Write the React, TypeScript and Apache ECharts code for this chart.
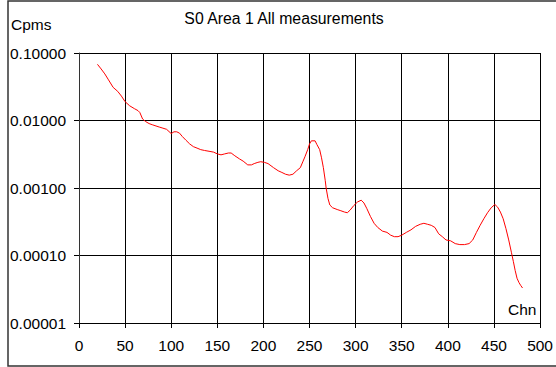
import React, { useEffect, useRef } from "react";
import * as echarts from "echarts";

const channels = [
  20, 24, 28, 32, 37, 42, 46, 50, 55, 60, 64, 66, 69, 72, 76, 80, 87, 91, 95, 100,
  103, 106, 109, 112, 116, 120, 124, 128, 132, 136, 141, 146, 150, 154, 158, 162, 165, 169, 174, 178,
  183, 187, 190, 194, 197, 201, 205, 211, 216, 220, 224, 228, 232, 236, 240, 243, 245, 248, 250, 252,
  256, 258, 261, 263, 265, 267, 268, 270, 272, 275, 280, 284, 288, 291, 294, 298, 302, 306, 309, 312,
  316, 320, 324, 329, 334, 338, 342, 346, 350, 355, 360, 365, 370, 374, 378, 382, 386, 390, 394, 398,
  403, 408, 413, 418, 423, 427, 431, 435, 439, 443, 447, 451, 454, 457, 460, 463, 466, 469, 471, 473,
  475, 477, 479, 481,
];

const cpms = [
  0.068, 0.058, 0.049, 0.04, 0.031, 0.027, 0.023, 0.019, 0.0165, 0.015, 0.014, 0.0131, 0.0105, 0.0097, 0.009, 0.0086, 0.008, 0.0077, 0.0074, 0.0064,
  0.0068, 0.0068, 0.0065, 0.0058, 0.0051, 0.0045, 0.0041, 0.0039, 0.0037, 0.0036, 0.0035, 0.0034, 0.0032, 0.0031, 0.0032, 0.0033, 0.0033, 0.003, 0.0027, 0.0025,
  0.0022, 0.0022, 0.0023, 0.0024, 0.00245, 0.0024, 0.0023, 0.002, 0.0018, 0.0017, 0.0016, 0.00155, 0.0016, 0.0018, 0.002, 0.0025, 0.0029, 0.0037, 0.0045, 0.005,
  0.005, 0.0044, 0.0037, 0.0028, 0.002, 0.0013, 0.001, 0.0007, 0.00056, 0.00051, 0.00048, 0.00046, 0.00044, 0.00043, 0.00047, 0.00055, 0.00062, 0.00066, 0.0006, 0.0005,
  0.00038, 0.0003, 0.00026, 0.00023, 0.00022, 0.0002, 0.00019, 0.00019, 0.0002, 0.00022, 0.00024, 0.00027, 0.00029, 0.0003, 0.00029, 0.00028, 0.00026, 0.00021, 0.00019, 0.00017,
  0.000165, 0.00015, 0.000145, 0.000145, 0.00015, 0.00017, 0.00022, 0.00028, 0.00035, 0.00043, 0.00051, 0.00057, 0.00052, 0.00044, 0.00035, 0.00025, 0.00017, 0.00011, 0.000082, 0.00006,
  0.000046, 0.00004, 0.000036, 0.000033,
];

const titleText = "S0 Area 1 All measurements";
const yAxisName = "Cpms";
const xAxisName = "Chn";

const FONT = "Arial, 'Liberation Sans', sans-serif";

export default function App() {
  const ref = useRef<HTMLDivElement>(null);
  useEffect(() => {
    if (!ref.current) return;
    const chart = echarts.init(ref.current, null, { renderer: "svg" });
    const data = channels.map((c, i) => [c, cpms[i]]);
    chart.setOption({
      animation: false,
      backgroundColor: "#ffffff",
      grid: { left: 79, top: 53, right: 13, bottom: 44, containLabel: false },
      xAxis: {
        type: "value",
        min: 0,
        max: 500,
        interval: 50,
        axisLine: { show: true, onZero: false, lineStyle: { color: "#000", width: 1 } },
        axisTick: { show: true, inside: false, length: 5, lineStyle: { color: "#000" } },
        axisLabel: { color: "#000", fontSize: 15.5, fontFamily: FONT, margin: 14 },
        splitLine: { show: true, lineStyle: { color: "#000", width: 1 } },
      },
      yAxis: {
        type: "log",
        logBase: 10,
        min: 0.00001,
        max: 0.1,
        axisLine: { show: true, lineStyle: { color: "#333", width: 1 } },
        axisTick: { show: true, inside: false, length: 5, lineStyle: { color: "#000" } },
        minorTick: { show: false },
        axisLabel: {
          color: "#000",
          fontSize: 15.5,
          fontFamily: FONT,
          margin: 13,
          formatter: (v: number) => v.toFixed(5),
        },
        splitLine: { show: true, lineStyle: { color: "#000", width: 1 } },
      },
      series: [
        {
          type: "line",
          data,
          showSymbol: false,
          symbol: "none",
          lineStyle: { color: "#ff0000", width: 1 },
          itemStyle: { color: "#ff0000" },
        },
      ],
      graphic: [
        {
          type: "rect",
          shape: { x: 8, y: 1, width: 560, height: 365 },
          style: { fill: "none", stroke: "#333", lineWidth: 1.5 },
          silent: true,
        },
        {
          type: "text",
          x: 284,
          y: 18,
          style: {
            text: titleText,
            fontSize: 15.8,
            fontFamily: FONT,
            fill: "#000",
            align: "center",
            verticalAlign: "middle",
          },
        },
        {
          type: "text",
          x: 11,
          y: 24,
          style: {
            text: yAxisName,
            fontSize: 15.5,
            fontFamily: FONT,
            fill: "#000",
            align: "left",
            verticalAlign: "middle",
          },
        },
        {
          type: "text",
          x: 508,
          y: 309,
          style: {
            text: xAxisName,
            fontSize: 15.5,
            fontFamily: FONT,
            fill: "#000",
            align: "left",
            verticalAlign: "middle",
          },
        },
      ],
    });
    return () => chart.dispose();
  }, []);
  return (
    <div
      ref={ref}
      style={{ position: "fixed", left: 0, top: 0, width: 556, height: 367 }}
    />
  );
}
